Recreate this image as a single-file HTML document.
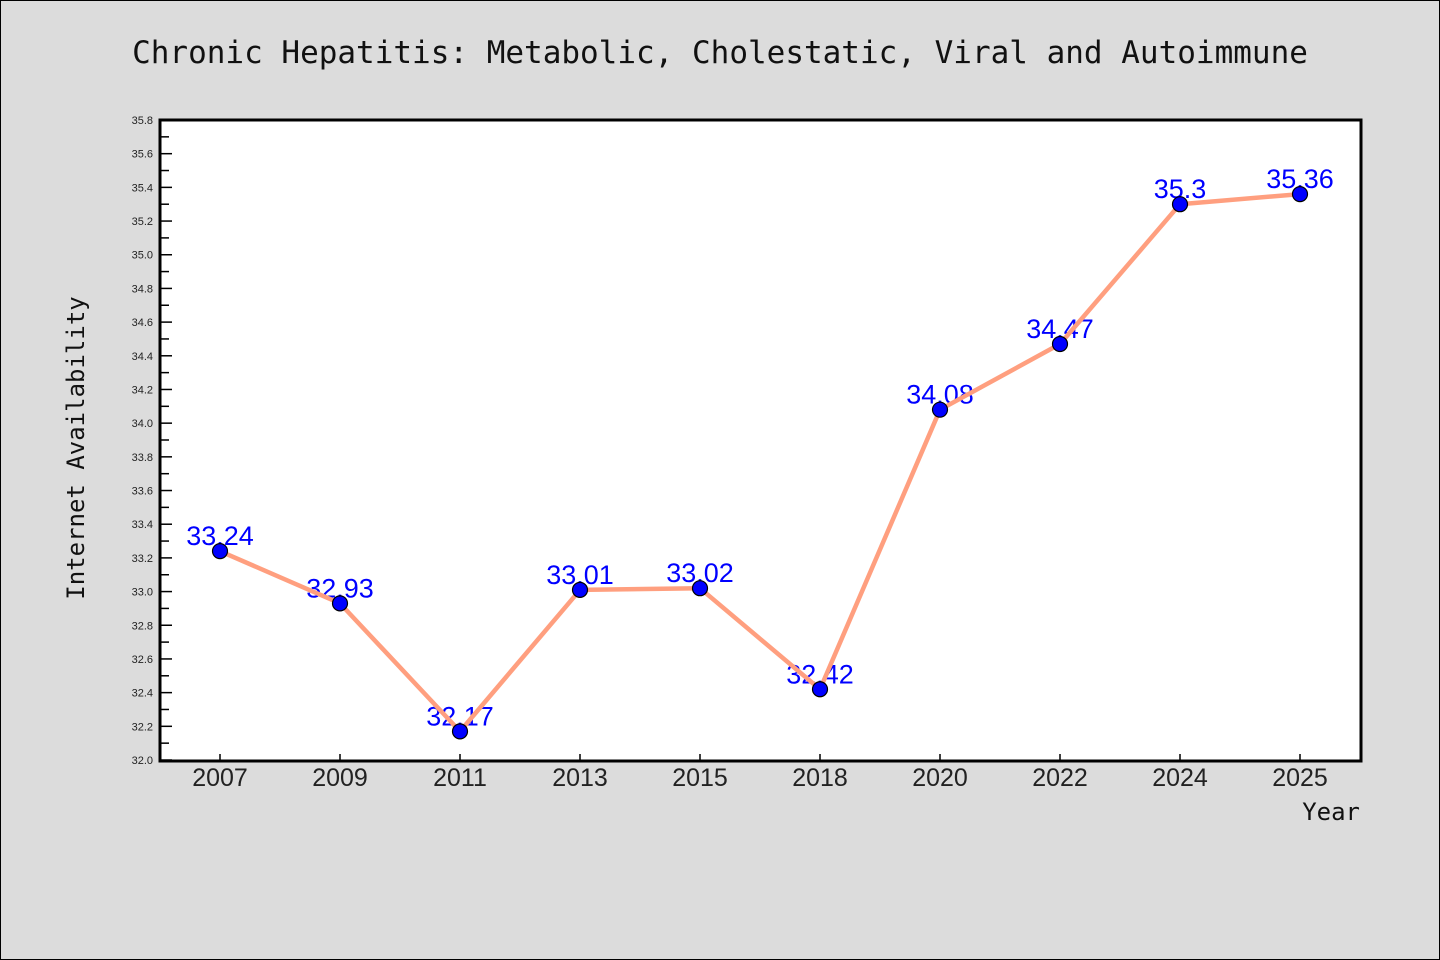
<!DOCTYPE html>
<html><head><meta charset="utf-8"><style>
html,body{margin:0;padding:0;background:#dcdcdc;}
svg{display:block;}
</style></head><body>
<svg id="chart" width="1440" height="960" xmlns="http://www.w3.org/2000/svg">
<rect x="0.5" y="0.5" width="1439" height="959" fill="#dcdcdc" stroke="#000" stroke-width="1"/>
<text x="720" y="63" text-anchor="middle" font-family="DejaVu Sans Mono, Liberation Mono, monospace" font-size="31" fill="#111">Chronic Hepatitis: Metabolic, Cholestatic, Viral and Autoimmune</text>
<rect x="160" y="120" width="1201" height="641" fill="#fff"/>
<g id="grid"></g>
<g id="series"></g>
<rect x="160" y="120" width="1201" height="641" fill="none" stroke="#000" stroke-width="3"/>
<text transform="translate(84,448) rotate(-90)" text-anchor="middle" font-family="DejaVu Sans Mono, Liberation Mono, monospace" font-size="24" fill="#111">Internet Availability</text>
<text x="1360" y="820" text-anchor="end" font-family="DejaVu Sans Mono, Liberation Mono, monospace" font-size="24" fill="#111">Year</text>
</svg>
<script>
const categories = ["2007","2009","2011","2013","2015","2018","2020","2022","2024","2025"];
const values = [33.24, 32.93, 32.17, 33.01, 33.02, 32.42, 34.08, 34.47, 35.3, 35.36];
const valueLabels = ["33.24","32.93","32.17","33.01","33.02","32.42","34.08","34.47","35.3","35.36"];
const yTicks = [32.0,32.2,32.4,32.6,32.8,33.0,33.2,33.4,33.6,33.8,34.0,34.2,34.4,34.6,34.8,35.0,35.2,35.4,35.6,35.8];
const yMin = 32.0, yMax = 35.8;
const NS = "http://www.w3.org/2000/svg";
const L = 160, R = 1361, T = 120, B = 760;
function yScale(v){ return B - (v - yMin) / (yMax - yMin) * (B - T); }
function xScale(i){ return 220 + i * 120; }
function mk(tag, attrs, parent){ const e = document.createElementNS(NS, tag); for (const k in attrs) e.setAttribute(k, attrs[k]); parent.appendChild(e); return e; }
const grid = document.getElementById('grid');
const series = document.getElementById('series');
yTicks.forEach((t, i) => {
  const y = yScale(t);
  const tk = mk('line', {x1: L, x2: L + 12, y1: y, y2: y, stroke: '#000', 'stroke-width': 1.5}, grid);
  
  
  const lb = mk('text', {x: L - 7, y: y + 4, 'text-anchor': 'end', 'font-family': 'Liberation Sans, sans-serif', 'font-size': 11, fill: '#222'}, grid);
  lb.textContent = t.toFixed(1);
  
  
  if (i < yTicks.length - 1) {
    const ym = yScale(t + 0.1);
    const mt = mk('line', {x1: L, x2: L + 9, y1: ym, y2: ym, stroke: '#000', 'stroke-width': 1.5}, grid);
    
    
  }
});
categories.forEach((c, i) => {
  const x = xScale(i);
  const tk = mk('line', {x1: x, x2: x, y1: B, y2: B - 6, stroke: '#000', 'stroke-width': 1.5}, grid);
  
  
  const lb = mk('text', {x: x, y: B + 26, 'text-anchor': 'middle', 'font-family': 'Liberation Sans, sans-serif', 'font-size': 25, fill: '#222'}, grid);
  lb.textContent = c;
  
  
});
values.forEach((v, i) => {
  const t = mk('text', {x: xScale(i), y: yScale(v) - 6, 'text-anchor': 'middle', 'font-family': 'Liberation Sans, sans-serif', 'font-size': 27, fill: '#0000ff'}, series);
  t.textContent = valueLabels[i];
  
  
});
const pts = values.map((v, i) => xScale(i) + ',' + yScale(v)).join(' ');
const line = mk('polyline', {points: pts, fill: 'none', stroke: '#ff9f7f', 'stroke-width': 4.5, 'stroke-linejoin': 'round'}, series);


values.forEach((v, i) => {
  const c = mk('circle', {cx: xScale(i), cy: yScale(v), r: 7.5, fill: '#0000ff', stroke: '#000', 'stroke-width': 1.2}, series);
  
  
});
</script>
</body></html>
